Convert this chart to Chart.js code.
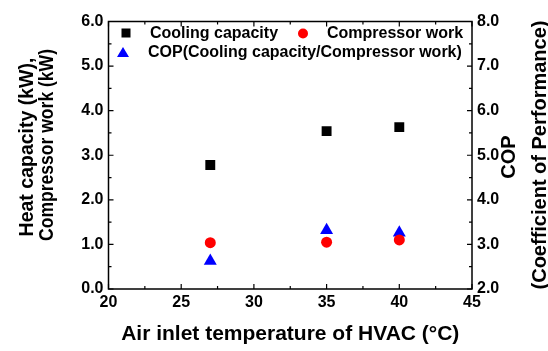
<!DOCTYPE html>
<html>
<head>
<meta charset="utf-8">
<script src="https://cdn.jsdelivr.net/npm/chart.js@4/dist/chart.umd.min.js"></script>
<style>
  body { margin: 0; background: #fff; }
  #wrap { width: 548px; height: 351px; }
</style>
</head>
<body>
<div id="wrap"><canvas id="myChart" width="548" height="351"></canvas></div>
<script>
// data
const temps = [27, 35, 40];
const coolingCapacity = [2.78, 3.54, 3.63];
const compressorWork = [1.04, 1.05, 1.10];
const cop = [2.63, 3.32, 3.26];

const xTicks = [20, 25, 30, 35, 40, 45];
const leftTicks = [0, 1, 2, 3, 4, 5, 6];
const rightTicks = [2, 3, 4, 5, 6, 7, 8];

const FONT = '"Liberation Sans", Arial, sans-serif';

function pts(ys) {
  return temps.map((t, i) => ({ x: t, y: ys[i] }));
}

function vText(ctx, text, x, y, maxW) {
  ctx.save();
  ctx.translate(x, y);
  ctx.rotate(-Math.PI / 2);
  if (maxW) ctx.fillText(text, 0, 0, maxW);
  else ctx.fillText(text, 0, 0);
  ctx.restore();
}

// frame + inward ticks (major and minor), titles and legend
const framePlugin = {
  id: 'frame',
  afterDraw(chart) {
    const ctx = chart.ctx;
    const a = chart.chartArea;
    const x = chart.scales.x, y = chart.scales.y, y2 = chart.scales.y2;
    ctx.save();
    ctx.strokeStyle = '#000';
    ctx.lineWidth = 1.5;
    ctx.strokeRect(a.left, a.top, a.right - a.left, a.bottom - a.top);
    ctx.lineWidth = 1.2;
    ctx.beginPath();
    for (let v = 20; v <= 45; v += 2.5) {
      const px = x.getPixelForValue(v);
      const len = (v % 5 === 0) ? 5 : 3;
      ctx.moveTo(px, a.bottom); ctx.lineTo(px, a.bottom - len);
      ctx.moveTo(px, a.top); ctx.lineTo(px, a.top + len);
    }
    for (let v = 0; v <= 6; v += 0.5) {
      const py = y.getPixelForValue(v);
      const len = (v % 1 === 0) ? 5 : 3;
      ctx.moveTo(a.left, py); ctx.lineTo(a.left + len, py);
    }
    for (let v = 2; v <= 8; v += 0.5) {
      const py = y2.getPixelForValue(v);
      const len = (v % 1 === 0) ? 5 : 3;
      ctx.moveTo(a.right, py); ctx.lineTo(a.right - len, py);
    }
    ctx.stroke();

    // axis titles
    ctx.fillStyle = '#000';
    ctx.textAlign = 'center';
    ctx.textBaseline = 'middle';
    ctx.font = 'bold 21px ' + FONT;
    ctx.fillText('Air inlet temperature of HVAC (\u00B0C)', (a.left + a.right) / 2, 334);

    ctx.font = 'bold 19.5px ' + FONT;
    vText(ctx, 'Heat capacity (kW),', 28, 147);
    vText(ctx, 'Compressor work (kW)', 48, 145, 192);
    ctx.font = 'bold 20px ' + FONT;
    vText(ctx, 'COP', 509, 157);
    vText(ctx, '(Coefficient of Performance)', 540, 155, 290);

    // legend inside the plot
    ctx.font = 'bold 16px ' + FONT;
    ctx.textAlign = 'left';
    ctx.fillStyle = '#000';
    ctx.fillRect(121.5, 28.5, 9, 9);
    ctx.fillText('Cooling capacity', 150, 34);
    ctx.fillStyle = '#ff0000';
    ctx.beginPath(); ctx.arc(303, 33.5, 5, 0, Math.PI * 2); ctx.fill();
    ctx.fillStyle = '#000';
    ctx.fillText('Compressor work', 327, 34);
    ctx.fillStyle = '#0000ff';
    ctx.beginPath();
    ctx.moveTo(123, 47); ctx.lineTo(129, 57); ctx.lineTo(117, 57); ctx.closePath(); ctx.fill();
    ctx.fillStyle = '#000';
    ctx.fillText('COP(Cooling capacity/Compressor work)', 148, 53);
    ctx.restore();
  }
};

const tickFont = { family: FONT, size: 16, weight: 'bold' };
const noGrid = { display: false, drawTicks: false };

var ctx = document.getElementById('myChart');
var chart = new Chart(ctx, {
  type: 'scatter',
  data: {
    datasets: [{
      label: 'Cooling capacity',
      data: pts(coolingCapacity),
      pointStyle: 'rect',
      pointRadius: 7,
      backgroundColor: '#000',
      borderColor: '#000',
      borderWidth: 0,
      yAxisID: 'y'
    },
    {
      label: 'Compressor work',
      data: pts(compressorWork),
      pointStyle: 'circle',
      pointRadius: 5.5,
      backgroundColor: '#ff0000',
      borderColor: '#ff0000',
      borderWidth: 0,
      yAxisID: 'y'
    },
    {
      label: 'COP(Cooling capacity/Compressor work)',
      data: pts(cop),
      pointStyle: 'triangle',
      pointRadius: 7.5,
      backgroundColor: '#0000ff',
      borderColor: '#0000ff',
      borderWidth: 0,
      yAxisID: 'y2'
    }]
  },
  options: {
    responsive: false,
    animation: false,
    layout: { padding: { top: 21.5 } },
    plugins: { legend: { display: false }, tooltip: { enabled: false } },
    scales: {
      x: {
        type: 'linear', min: 20, max: 45,
        afterBuildTicks: s => { s.ticks = xTicks.map(v => ({ value: v })); },
        afterFit: s => { s.height = 62; },
        grid: noGrid, border: { display: false },
        ticks: { color: '#000', font: tickFont, padding: 4, maxRotation: 0 }
      },
      y: {
        position: 'left', min: 0, max: 6,
        afterBuildTicks: s => { s.ticks = leftTicks.map(v => ({ value: v })); },
        afterFit: s => { s.width = 108.5; },
        grid: noGrid, border: { display: false },
        ticks: { color: '#000', font: tickFont, padding: 5, callback: v => v.toFixed(1) }
      },
      y2: {
        position: 'right', min: 2, max: 8,
        afterBuildTicks: s => { s.ticks = rightTicks.map(v => ({ value: v })); },
        afterFit: s => { s.width = 76; },
        grid: noGrid, border: { display: false },
        ticks: { color: '#000', font: tickFont, padding: 5, callback: v => v.toFixed(1) }
      }
    }
  },
  plugins: [framePlugin]
});
</script>
</body>
</html>
